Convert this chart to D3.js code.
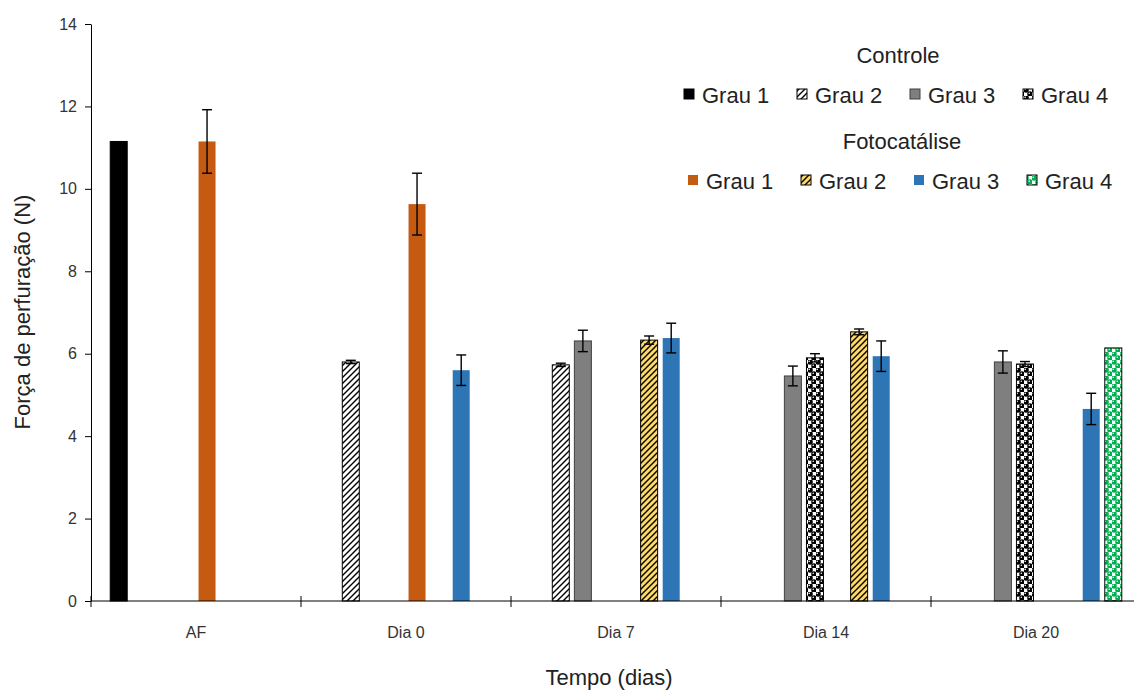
<!DOCTYPE html>
<html>
<head>
<meta charset="utf-8">
<script src="https://cdn.jsdelivr.net/npm/d3@7"></script>
<style>
  body { margin: 0; background: #fff; }
  text { font-family: "Liberation Sans", Arial, sans-serif; }
</style>
</head>
<body>
<script>
// data
var categories = ["AF", "Dia 0", "Dia 7", "Dia 14", "Dia 20"];
var yTicks = [0, 2, 4, 6, 8, 10, 12, 14];

var seriesNames = ["C1", "C2", "C3", "C4", "F1", "F2", "F3", "F4"];
var legendLabels = ["Grau 1", "Grau 2", "Grau 3", "Grau 4"];

var ctrlGrau1 = [11.15, null, null, null, null];
var ctrlGrau2 = [null, 5.80, 5.73, null, null];
var ctrlGrau3 = [null, null, 6.31, 5.46, 5.80];
var ctrlGrau4 = [null, null, null, 5.90, 5.75];
var fotoGrau1 = [11.15, 9.63, null, null, null];
var fotoGrau2 = [null, null, 6.33, 6.53, null];
var fotoGrau3 = [null, 5.60, 6.38, 5.94, 4.66];
var fotoGrau4 = [null, null, null, null, 6.14];

var errCtrl1 = [0, 0, 0, 0, 0];
var errCtrl2 = [0, 0.04, 0.04, 0, 0];
var errCtrl3 = [0, 0, 0.26, 0.24, 0.27];
var errCtrl4 = [0, 0, 0, 0.10, 0.06];
var errFoto1 = [0.77, 0.75, 0, 0, 0];
var errFoto2 = [0, 0, 0.10, 0.07, 0];
var errFoto3 = [0, 0.37, 0.36, 0.37, 0.38];
var errFoto4 = [0, 0, 0, 0, 0];

var values = [ctrlGrau1, ctrlGrau2, ctrlGrau3, ctrlGrau4, fotoGrau1, fotoGrau2, fotoGrau3, fotoGrau4];
var errors = [errCtrl1, errCtrl2, errCtrl3, errCtrl4, errFoto1, errFoto2, errFoto3, errFoto4];

(function () {
var W = 1134, H = 691;
var svg = d3.select("body").append("svg").attr("width", W).attr("height", H);

// patterns
var defs = svg.append("defs");
function hatch(id, bg) {
    var p = defs.append("pattern").attr("id", id)
        .attr("patternUnits", "userSpaceOnUse").attr("width", 6).attr("height", 6);
    p.append("rect").attr("width", 6).attr("height", 6).attr("fill", bg);
    p.append("path").attr("d", "M0,6 L6,0 M-1.5,1.5 L1.5,-1.5 M4.5,7.5 L7.5,4.5")
        .attr("stroke", "#000").attr("stroke-width", 1.4);
}
function spheres(id, fg) {
    var p = defs.append("pattern").attr("id", id)
        .attr("patternUnits", "userSpaceOnUse").attr("width", 8).attr("height", 8);
    p.append("rect").attr("width", 8).attr("height", 8).attr("fill", "#fff");
    [[2, 2], [6, 6]].forEach(function (c) {
        p.append("circle").attr("cx", c[0]).attr("cy", c[1]).attr("r", 2.7).attr("fill", fg);
        p.append("circle").attr("cx", c[0] - 0.8).attr("cy", c[1] - 0.8).attr("r", 0.8).attr("fill", "#fff");
    });
    p.append("rect").attr("x", 3.5).attr("y", 0).attr("width", 1).attr("height", 8).attr("fill", fg).attr("opacity", 0.5);
}
hatch("hatchWhite", "#fff");
hatch("hatchYellow", "#FFD966");
spheres("sphBlack", "#000");
spheres("sphGreen", "#00B050");

var fills = ["#000", "url(#hatchWhite)", "#7F7F7F", "url(#sphBlack)",
             "#C55A11", "url(#hatchYellow)", "#2E75B6", "url(#sphGreen)"];
var strokes = ["#000", "#000", "#404040", "#000", "none", "#000", "none", "#000"];

var mLeft = 91, mBottom = 601, mTop = 24, catW = 210;

var x0 = d3.scaleBand().domain(categories).range([mLeft, mLeft + catW * categories.length]).padding(0);
var x1 = d3.scaleBand().domain(seriesNames).range([17, 193]).paddingInner(0.23).paddingOuter(0.1);
var y = d3.scaleLinear().domain([0, 14]).range([mBottom, mTop]);

// y axis
var yAxis = svg.append("g").attr("transform", "translate(" + mLeft + ",0)")
    .call(d3.axisLeft(y).tickValues(yTicks).tickSize(6).tickSizeOuter(0).tickPadding(8));
yAxis.select(".domain").attr("stroke", "#000");
yAxis.selectAll(".tick line").attr("stroke", "#000");
yAxis.selectAll(".tick text").attr("font-family", "Lato, 'Open Sans', sans-serif")
    .attr("font-size", 16).attr("fill", "#333");

// bars
var flat = [];
values.forEach(function (arr, si) {
    arr.forEach(function (v, ci) {
        if (v !== null) flat.push({ s: si, c: ci, v: v, e: errors[si][ci] });
    });
});

svg.append("g").selectAll("rect").data(flat).enter().append("rect")
    .attr("x", function (d) { return x0(categories[d.c]) + x1(seriesNames[d.s]); })
    .attr("y", function (d) { return y(d.v); })
    .attr("width", x1.bandwidth())
    .attr("height", function (d) { return mBottom - y(d.v); })
    .attr("fill", function (d) { return fills[d.s]; })
    .attr("stroke", function (d) { return strokes[d.s]; })
    .attr("stroke-width", 1);

// error bars
function cx(d) { return x0(categories[d.c]) + x1(seriesNames[d.s]) + x1.bandwidth() / 2; }
var eb = svg.append("g").selectAll("g").data(flat.filter(function (d) { return d.e > 0; }))
    .enter().append("g")
    .attr("stroke", "#000").attr("stroke-width", 1.4);
eb.append("line")
    .attr("x1", cx).attr("x2", cx)
    .attr("y1", function (d) { return y(d.v + d.e); })
    .attr("y2", function (d) { return y(d.v - d.e); });
eb.append("line")
    .attr("x1", function (d) { return cx(d) - 5; }).attr("x2", function (d) { return cx(d) + 5; })
    .attr("y1", function (d) { return y(d.v + d.e); }).attr("y2", function (d) { return y(d.v + d.e); });
eb.append("line")
    .attr("x1", function (d) { return cx(d) - 5; }).attr("x2", function (d) { return cx(d) + 5; })
    .attr("y1", function (d) { return y(d.v - d.e); }).attr("y2", function (d) { return y(d.v - d.e); });

// x axis
var xg = svg.append("g");
xg.append("line").attr("x1", mLeft).attr("x2", W).attr("y1", mBottom).attr("y2", mBottom)
    .attr("stroke", "#000");
xg.selectAll(".tk").data(categories).enter().append("line")
    .attr("x1", function (d) { return x0(d); }).attr("x2", function (d) { return x0(d); })
    .attr("y1", mBottom - 5).attr("y2", mBottom + 6).attr("stroke", "#000");
xg.selectAll(".lbl").data(categories).enter().append("text")
    .attr("x", function (d) { return x0(d) + x0.bandwidth() / 2; })
    .attr("y", 638)
    .attr("text-anchor", "middle")
    .attr("font-family", "Lato, 'Open Sans', sans-serif")
    .attr("font-size", 16).attr("fill", "#333")
    .text(function (d) { return d; });

// axis titles
svg.append("text").attr("x", 609).attr("y", 685).attr("text-anchor", "middle")
    .attr("font-size", 22).attr("fill", "#222").text("Tempo (dias)");
svg.append("text").attr("transform", "translate(30,312) rotate(-90)").attr("text-anchor", "middle")
    .attr("font-size", 22).attr("fill", "#222").text("Força de perfuração (N)");

// legend
var lg = svg.append("g");
lg.append("text").attr("x", 898).attr("y", 63).attr("text-anchor", "middle")
    .attr("font-size", 22).attr("fill", "#222").text("Controle");
lg.append("text").attr("x", 902).attr("y", 149).attr("text-anchor", "middle")
    .attr("font-size", 22).attr("fill", "#222").text("Fotocatálise");

var rows = [{ start: 684, base: 103 }, { start: 688, base: 189 }];
rows.forEach(function (r, ri) {
    legendLabels.forEach(function (lab, i) {
        var si = ri * 4 + i;
        var lx = r.start + i * 113;
        lg.append("rect").attr("x", lx).attr("y", r.base - 14).attr("width", 10).attr("height", 10)
            .attr("fill", fills[si])
            .attr("stroke", strokes[si]).attr("stroke-width", 1);
        lg.append("text").attr("x", lx + 18).attr("y", r.base)
            .attr("font-size", 22).attr("fill", "#222").text(lab);
    });
});
})();
</script>
</body>
</html>
